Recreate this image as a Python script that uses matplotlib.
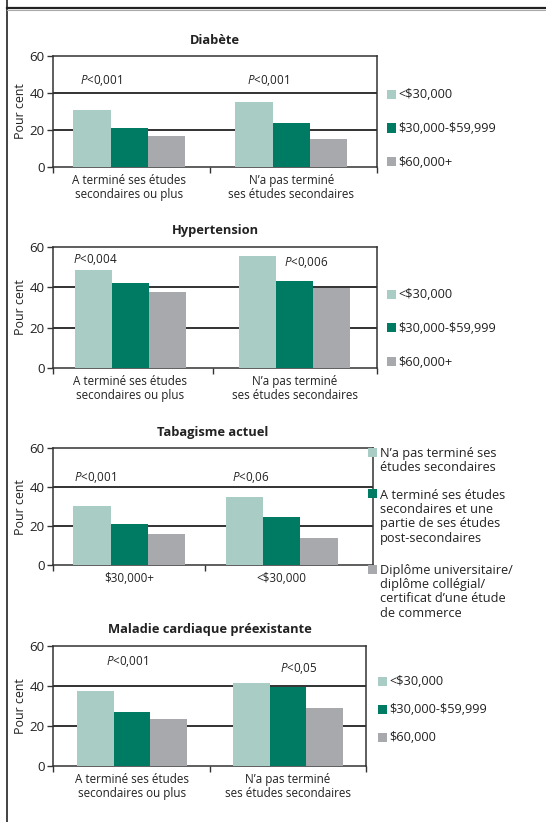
import matplotlib
matplotlib.use("Agg")
import matplotlib.pyplot as plt
from matplotlib.lines import Line2D
from matplotlib.patches import Rectangle

plt.rcParams['font.family'] = ['Open Sans', 'DejaVu Sans']
plt.rcParams['mathtext.fontset'] = 'custom'
plt.rcParams['mathtext.it'] = 'Open Sans:italic'
plt.rcParams['mathtext.rm'] = 'Open Sans'

# ---------------- data ----------------
edu_cats = ["A terminé ses études\nsecondaires ou plus", "N\u2019a pas terminé\nses études secondaires"]
inc_cats = ["\\$30,000+", "<\\$30,000"]

income_labels = ["<\\$30,000", "\\$30,000-\\$59,999", "\\$60,000+"]
income_labels_cardio = ["<\\$30,000", "\\$30,000-\\$59,999", "\\$60,000"]
edu_labels = ["N\u2019a pas terminé ses\nétudes secondaires",
              "A terminé ses études\nsecondaires et une\npartie de ses études\npost-secondaires",
              "Diplôme universitaire/\ndiplôme collégial/\ncertificat d\u2019une étude\nde commerce"]

diab_low = [31, 35]
diab_mid = [21, 24]
diab_high = [17, 15]
diab_p = ["<0,001", "<0,001"]

hyp_low = [48.5, 55.5]
hyp_mid = [42, 43]
hyp_high = [37.5, 39.5]
hyp_p = ["<0,004", "<0,006"]

smk_nohs = [30.5, 35]
smk_hs = [21, 25]
smk_univ = [16, 14]
smk_p = ["<0,001", "<0,06"]

card_low = [37.5, 41.5]
card_mid = [27, 39.5]
card_high = [23.5, 29]
card_p = ["<0,001", "<0,05"]

colors = ["#a9cdc4", "#007b63", "#a7a9ac"]

W, H = 546, 822
fig = plt.figure(figsize=(W / 100, H / 100), dpi=100)
FS = 8.4


def px_ax(x0, x1, y0, y1):
    return fig.add_axes([x0 / W, 1 - y1 / H, (x1 - x0) / W, (y1 - y0) / H])


def panel(box, xlim, width, series, cats, title, pvals, ppos):
    ax = px_ax(*box)
    for i, (vals, c) in enumerate(zip(series, colors)):
        xs = [k + (i - 1) * width for k in range(len(vals))]
        ax.bar(xs, vals, width=width, color=c, zorder=3, linewidth=0)
    ax.set_xlim(*xlim)
    ax.set_ylim(0, 60)
    ax.set_yticks([0, 20, 40, 60])
    ax.tick_params(axis='y', direction='out', length=4, width=1, labelsize=FS + 1.2, pad=2,
                   color='#333333', labelcolor='#222222')
    ax.set_xticks([0, 1])
    ax.set_xticklabels(cats, fontsize=FS, linespacing=1.15, color='#222222')
    ax.tick_params(axis='x', length=0, pad=5)
    ax.set_xticks([xlim[0], 0.5, xlim[1]], minor=True)
    ax.tick_params(axis='x', which='minor', direction='out', length=4, width=1, color='#333333')
    for y in (20, 40):
        ax.axhline(y, color='#222222', lw=1.3, zorder=2)
    for s in ax.spines.values():
        s.set_color('#333333')
        s.set_linewidth(1.1)
    ax.set_ylabel("Pour cent", fontsize=FS + 0.5, labelpad=2, color='#222222')
    ax.set_title(title, fontsize=FS + 0.9, fontweight='bold', pad=9, color='#222222')
    for (px, py), p in zip(ppos, pvals):
        ax.text(px, py, r"$\mathit{P}$" + p, fontsize=FS, ha='center', va='center', zorder=4,
                color='#222222')
    return ax


def legend(x_sq, ys, labels, line_h=15.2):
    for y, lab, c in zip(ys, labels, colors):
        fig.add_artist(Rectangle(((x_sq) / W, 1 - (y + 4.5) / H), 9 / W, 9 / H,
                                 transform=fig.transFigure, color=c, lw=0))
        n = lab.count("\n") + 1
        fig.text((x_sq + 11.5) / W, 1 - (y + (n - 1) * line_h / 2) / H, lab, fontsize=FS + 0.8,
                 ha='left', va='center', linespacing=1.12, color='#222222')


panel((53, 377, 56, 167), (-0.47, 1.53), 0.23, [diab_low, diab_mid, diab_high], edu_cats,
      "Diabète", diab_p, [(-0.17, 46.5), (0.86, 46.5)])
legend(387, [95, 128, 162], income_labels)

panel((53, 377, 246.7, 368), (-0.47, 1.50), 0.225, [hyp_low, hyp_mid, hyp_high], edu_cats,
      "Hypertension", hyp_p, [(-0.21, 53.5), (1.07, 52)])
legend(387, [295, 328, 362], income_labels)

panel((53, 373, 448.3, 565.3), (-0.5, 1.6), 0.245, [smk_nohs, smk_hs, smk_univ], inc_cats,
      "Tabagisme actuel", smk_p, [(-0.226, 44.8), (0.80, 44.8)])
legend(368, [453, 494, 569], edu_labels)

panel((53, 366, 645.7, 766), (-0.506, 1.5), 0.235, [card_low, card_mid, card_high], edu_cats,
      "Maladie cardiaque préexistante", card_p, [(-0.03, 51.9), (1.07, 48.8)])
legend(378, [681, 709, 737], income_labels_cardio)

# page frame lines
fig.add_artist(Line2D([7 / W, 7 / W], [0, 1], transform=fig.transFigure, color='#222222', lw=1.2))
fig.add_artist(Line2D([7 / W, 1], [1 - 8 / H, 1 - 8 / H], transform=fig.transFigure, color='#222222', lw=1.6))
fig.add_artist(Line2D([7 / W, 1], [1 - 9.8 / H, 1 - 9.8 / H], transform=fig.transFigure, color='#aaaaaa', lw=0.8))

fig.savefig("out.png", dpi=100)
